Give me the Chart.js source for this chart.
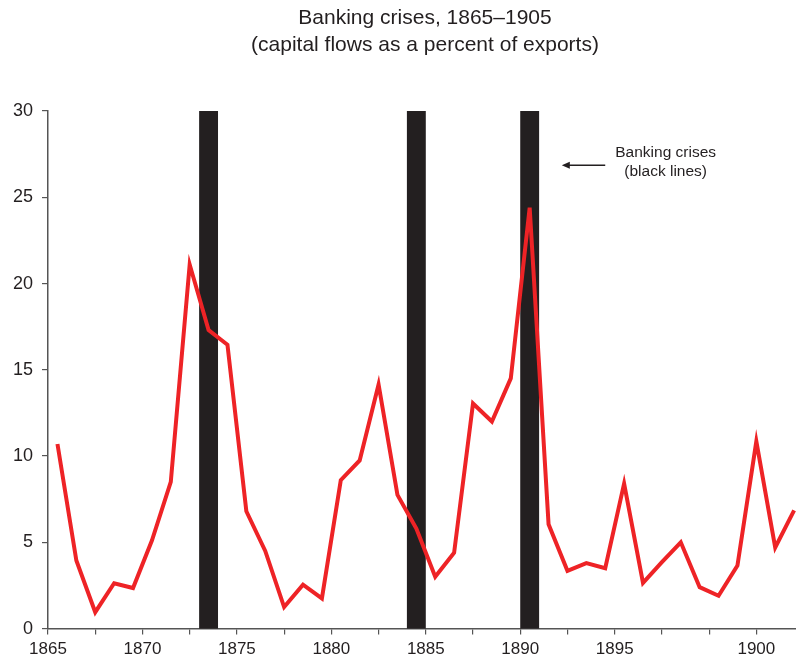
<!DOCTYPE html>
<html>
<head>
<meta charset="utf-8">
<script src="https://cdn.jsdelivr.net/npm/chart.js@4.4.0/dist/chart.umd.min.js"></script>
<style>
  html, body { margin: 0; padding: 0; background: #fff; }
  #wrap { width: 796px; height: 659px; position: relative; }
</style>
</head>
<body>
<div id="wrap"><canvas id="chart"></canvas></div>
<script>
// Data
const years = [1865, 1866, 1867, 1868, 1869, 1870, 1871, 1872, 1873, 1874,
               1875, 1876, 1877, 1878, 1879, 1880, 1881, 1882, 1883, 1884,
               1885, 1886, 1887, 1888, 1889, 1890, 1891, 1892, 1893, 1894,
               1895, 1896, 1897, 1898, 1899, 1900, 1901, 1902, 1903, 1904];
const capitalFlows = [10.7, 3.95, 0.95, 2.63, 2.35, 5.1, 8.5, 21.1, 17.3, 16.45,
                      6.8, 4.5, 1.25, 2.55, 1.75, 8.6, 9.75, 14.15, 7.75, 5.8,
                      3.0, 4.4, 13.05, 12.0, 14.5, 24.4, 6.05, 3.35, 3.8, 3.5,
                      8.4, 2.65, 3.85, 5.0, 2.4, 1.9, 3.65, 10.85, 4.7, 6.85];
const crisisYears = [1873, 1884, 1890];
const xTickValues = [1865, 1867.5, 1870, 1872.5, 1875, 1877.5, 1880, 1882.5,
                     1885, 1887.5, 1890, 1892.5, 1895, 1897.5, 1900, 1902.5];
const xTickLabels = ['1865', '', '1870', '', '1875', '', '1880', '',
                     '1885', '', '1890', '', '1895', '', '', '1900'];
const titleLines = ['Banking crises, 1865\u20131905', '(capital flows as a percent of exports)'];
const noteLines = ['Banking crises', '(black lines)'];

const FONT = '"Liberation Sans", Arial, Helvetica, sans-serif';
const INK = '#231f20';

// black crisis bars, one year wide, behind the line
const crisisBars = {
    id: 'crisisBars',
    beforeDatasetsDraw(chart) {
        const { ctx, chartArea, scales: { x, y } } = chart;
        ctx.save();
        ctx.fillStyle = INK;
        crisisYears.forEach(yr => {
            const x0 = x.getPixelForValue(yr);
            const x1 = x.getPixelForValue(yr + 1);
            const top = y.getPixelForValue(30);
            ctx.fillRect(x0, top, x1 - x0, chartArea.bottom - top);
        });
        ctx.restore();
    }
};

// title + arrow note
const textBits = {
    id: 'textBits',
    afterDraw(chart) {
        const { ctx, scales: { x, y } } = chart;
        ctx.save();
        ctx.fillStyle = INK;
        ctx.textAlign = 'center';
        ctx.textBaseline = 'middle';
        ctx.font = '21px ' + FONT;
        const cx = 425;
        ctx.fillText(titleLines[0], cx, 18);
        ctx.fillText(titleLines[1], cx, 45);

        // arrow pointing left toward the bars
        const ay = y.getPixelForValue(26.85);
        const tipX = x.getPixelForValue(1892.2);
        const tailX = x.getPixelForValue(1894.5);
        ctx.strokeStyle = INK;
        ctx.lineWidth = 1.5;
        ctx.beginPath();
        ctx.moveTo(tailX, ay);
        ctx.lineTo(tipX + 4, ay);
        ctx.stroke();
        ctx.beginPath();
        ctx.moveTo(tipX, ay);
        ctx.lineTo(tipX + 8, ay - 3.5);
        ctx.lineTo(tipX + 8, ay + 3.5);
        ctx.closePath();
        ctx.fill();

        ctx.font = '15.5px ' + FONT;
        const nx = x.getPixelForValue(1897.7);
        ctx.fillText(noteLines[0], nx, y.getPixelForValue(27.6));
        ctx.fillText(noteLines[1], nx, y.getPixelForValue(26.5));
        ctx.restore();
    }
};

new Chart(document.getElementById('chart'), {
    type: 'line',
    data: {
        datasets: [{
            label: 'Capital flows (% of exports)',
            data: years.map((yr, i) => ({ x: yr + 0.5, y: capitalFlows[i] })),
            borderColor: '#ee2326',
            borderWidth: 4,
            pointRadius: 0,
            tension: 0,
            fill: false,
            borderJoinStyle: 'miter'
        }]
    },
    options: {
        responsive: true,
        maintainAspectRatio: false,
        animation: false,
        layout: { padding: { top: 111, right: 0, bottom: -6, left: 4 } },
        plugins: {
            legend: { display: false },
            title: { display: false },
            tooltip: { enabled: false }
        },
        scales: {
            x: {
                type: 'linear',
                min: 1865,
                max: 1904.6,
                afterBuildTicks: scale => {
                    scale.ticks = xTickValues.map(v => ({ value: v }));
                },
                ticks: {
                    autoSkip: false,
                    maxRotation: 0,
                    padding: 5,
                    color: INK,
                    font: { family: FONT, size: 17 },
                    callback: (val) => {
                        const idx = xTickValues.indexOf(val);
                        return idx >= 0 ? xTickLabels[idx] : '';
                    }
                },
                grid: { drawOnChartArea: false, drawTicks: true, tickLength: 6, color: '#555', lineWidth: 1.2 },
                border: { display: true, color: '#555', width: 1.5 }
            },
            y: {
                min: 0,
                max: 30,
                ticks: {
                    stepSize: 5,
                    padding: 9,
                    color: INK,
                    font: { family: FONT, size: 18 }
                },
                grid: { drawOnChartArea: false, drawTicks: true, tickLength: 6, color: '#555', lineWidth: 1.2 },
                border: { display: true, color: '#555', width: 1.5 }
            }
        }
    },
    plugins: [crisisBars, textBits]
});
</script>
</body>
</html>
